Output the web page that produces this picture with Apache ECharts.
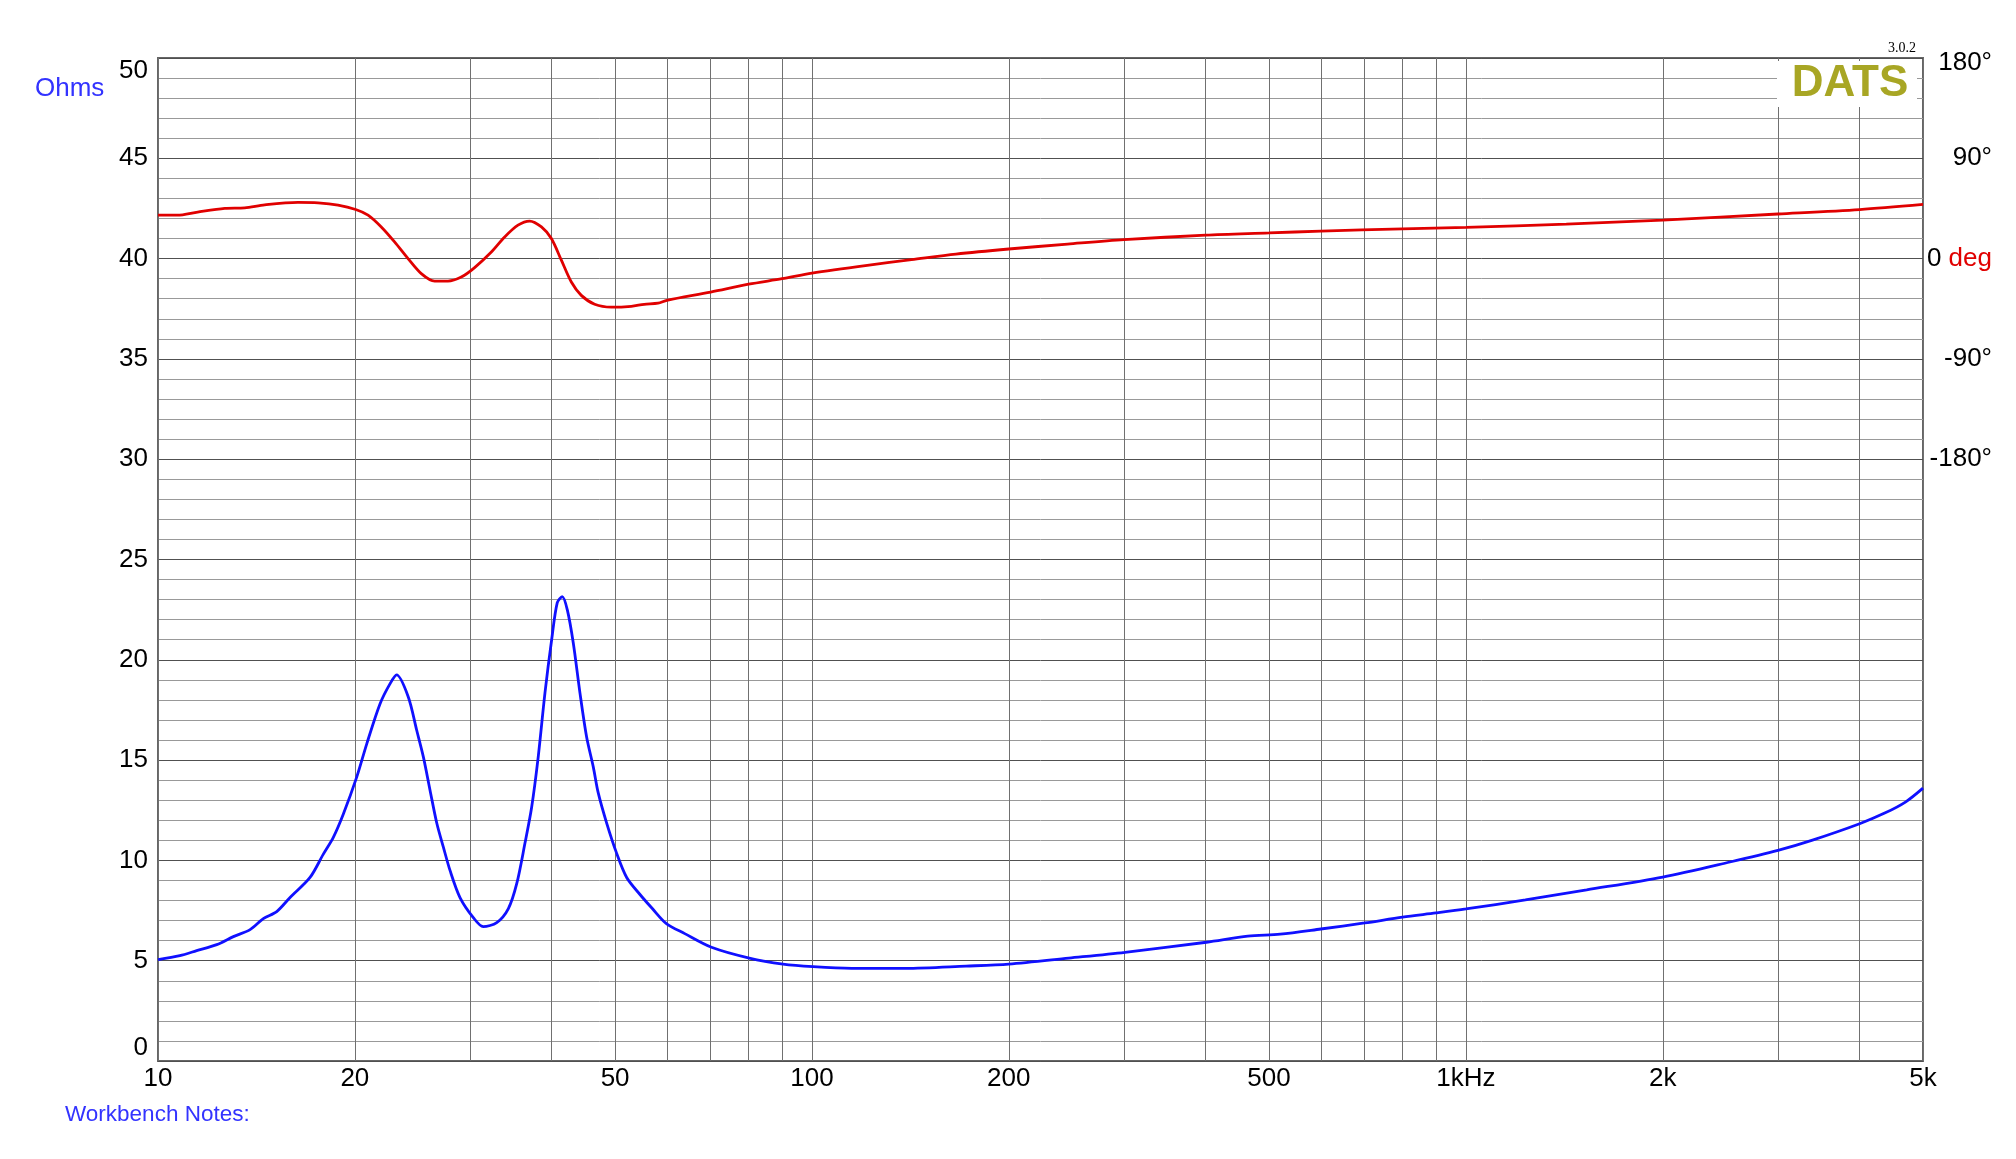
<!DOCTYPE html>
<html>
<head>
    <meta charset="utf-8">
    <title>DATS impedance</title>
    <script src="https://cdn.jsdelivr.net/npm/echarts@6/dist/echarts.min.js"></script>
    <style>
        html, body { margin: 0; padding: 0; background: #fff; }
    </style>
</head>
<body>
    <div id="main" style="width: 2016px;height:1159px;"></div>
    <script type="text/javascript">
        // impedance magnitude (ohms)
        var impFreq = [10, 10.8, 11.46, 12.3, 13.04, 13.83, 14.49, 15.19, 15.92, 17.08, 17.89, 18.54, 19.2,
            20.13, 20.85, 21.85, 22.63, 23.17, 24.14, 24.86, 25.46, 26.06, 26.69, 27.32, 27.96, 28.96,
            30.35, 31.43, 32.96, 34.34, 35.37, 36.4, 37.27, 38.14, 39.06, 39.99, 40.79, 41.51, 42.25,
            43.15, 44.18, 45.23, 46.31, 47.13, 48.55, 50.28, 52.08, 54.58, 57.0, 59.9, 63.9, 70.2,
            80.2, 90.3, 100.4, 115, 139, 172, 200, 247, 301, 401, 464, 520, 600, 700, 800, 900, 1000,
            1233, 1530, 2000, 2533, 3000, 3379, 4000, 4378, 4706, 5000];
        var impOhms = [5.05, 5.25, 5.5, 5.8, 6.2, 6.55, 7.1, 7.45, 8.15, 9.15, 10.3, 11.15, 12.3,
            14.15, 15.8, 17.8, 18.8, 19.25, 18.15, 16.5, 15.15, 13.5, 11.85, 10.65, 9.5, 8.15,
            7.15, 6.7, 6.9, 7.6, 8.85, 10.85, 12.65, 15.15, 18.35, 21.0, 22.85, 23.15, 22.5,
            20.85, 18.35, 16.15, 14.65, 13.35, 11.85, 10.35, 9.15, 8.3, 7.6, 6.85, 6.35, 5.67,
            5.13, 4.83, 4.7, 4.62, 4.62, 4.73, 4.83, 5.13, 5.42, 5.92, 6.22, 6.32, 6.58, 6.88, 7.17, 7.38, 7.58,
            8.03, 8.53, 9.17, 9.92, 10.5, 11.0, 11.83, 12.37, 12.92, 13.6];

        // phase (degrees)
        var phaseFreq = [10, 10.7, 11.5, 12.65, 13.57, 14.56, 16.37, 17.57, 18.85, 20.06, 20.95, 21.95,
            23.0, 24.12, 25.27, 26.49, 27.76, 29.09, 30.49, 32.34, 33.89, 35.52, 37.01, 38.58, 39.95,
            41.38, 42.86, 44.39, 46.53, 49.34, 52.94, 55.4, 58.16, 60, 70, 80, 90, 100, 121.5, 142, 166,
            200, 246, 300, 400, 500, 600, 800, 1000, 1424, 2000, 3000, 4000, 5000];
        var phaseDeg = [39, 39, 41.8, 45, 45.5, 48.2, 50.4, 50, 48, 44.1, 39, 28.4,
            15, 0, -13.5, -20.2, -20.2, -16.6, -8.1, 5.9, 19.4, 30, 33.7, 28.4, 18,
            -1.4, -21, -33, -41, -43.6, -42.8, -41, -40, -37.4, -30, -23, -18, -13, -6, -1, 4,
            8.6, 13, 17, 21, 23, 24.7, 26.6, 28, 31, 34.6, 40, 44, 48.6];

        // axis ticks
        var gridFreqs = [10, 20, 30, 40, 50, 60, 70, 80, 90, 100, 200, 300, 400, 500, 600, 700, 800, 900,
            1000, 2000, 3000, 4000, 5000];
        var labelFreqs = [10, 20, 50, 100, 200, 500, 1000, 2000, 5000];
        var freqNames = {1000: '1kHz', 2000: '2k', 5000: '5k'};

        var FONT = 'Liberation Sans';
        var myChart = echarts.init(document.getElementById('main'));

        myChart.setOption({
            animation: false,
            backgroundColor: '#fff',
            grid: {
                left: 158, right: 93, top: 58, bottom: 98,
                show: true,
                borderColor: '#666',
                borderWidth: 2
            },
            xAxis: {
                type: 'log',
                logBase: 10,
                min: 10,
                max: 5000,
                axisLine: {show: false},
                axisTick: {show: false, customValues: gridFreqs},
                axisLabel: {
                    customValues: labelFreqs,
                    fontFamily: FONT,
                    fontSize: 26,
                    color: '#000',
                    margin: 5,
                    formatter: function (v) {
                        var r = Math.round(v);
                        return freqNames[r] || String(r);
                    }
                },
                splitLine: {show: true, lineStyle: {color: '#707070', width: 1}}
            },
            yAxis: [{
                type: 'value',
                min: 0,
                max: 50,
                interval: 5,
                axisLine: {show: false},
                axisTick: {show: false},
                axisLabel: {
                    fontFamily: FONT,
                    fontSize: 26,
                    color: '#000',
                    margin: 10,
                    verticalAlignMaxLabel: 'top',
                    verticalAlignMinLabel: 'bottom'
                },
                splitLine: {show: true, lineStyle: {color: '#505050', width: 1}},
                minorTick: {show: false, splitNumber: 5},
                minorSplitLine: {show: true, lineStyle: {color: '#999', width: 1}}
            }, {
                type: 'value',
                position: 'right',
                min: -720,
                max: 180,
                interval: 90,
                axisLine: {show: false},
                axisTick: {show: false},
                splitLine: {show: false},
                axisLabel: {
                    fontFamily: FONT,
                    fontSize: 26,
                    color: '#000',
                    align: 'right',
                    margin: 69,
                    formatter: function (v) {
                        if (v < -180) return '';
                        if (v === 0) return '0 {d|deg}';
                        if (v === 180) return '{t|180°}';
                        return v + '°';
                    },
                    rich: {
                        d: {fontFamily: FONT, fontSize: 26, color: '#e00000'},
                        t: {fontFamily: FONT, fontSize: 26, color: '#000', padding: [10, 0, 0, 0]}
                    }
                }
            }],
            graphic: [{
                type: 'rect',
                z: 100,
                shape: {x: 1777, y: 61, width: 140, height: 46},
                style: {fill: '#fff'}
            }, {
                type: 'text',
                z: 101,
                x: 1850, y: 84,
                style: {
                    text: 'DATS',
                    fontFamily: FONT,
                    fontWeight: 'bold',
                    fontSize: 44,
                    fill: '#a8a624',
                    align: 'center',
                    verticalAlign: 'middle'
                }
            }, {
                type: 'text',
                z: 101,
                x: 1916, y: 48,
                style: {
                    text: '3.0.2',
                    fontFamily: 'Liberation Serif',
                    fontSize: 14,
                    fill: '#000',
                    align: 'right',
                    verticalAlign: 'middle'
                }
            }, {
                type: 'text',
                z: 101,
                x: 35, y: 89,
                style: {
                    text: 'Ohms',
                    fontFamily: FONT,
                    fontSize: 26,
                    fill: '#3333ff',
                    verticalAlign: 'middle'
                }
            }, {
                type: 'text',
                z: 101,
                x: 65, y: 1115,
                style: {
                    text: 'Workbench Notes:',
                    fontFamily: FONT,
                    fontSize: 22.5,
                    fill: '#3333ff',
                    verticalAlign: 'middle'
                }
            }],
            series: [{
                name: 'Impedance',
                type: 'line',
                showSymbol: false,
                smooth: 0.3,
                lineStyle: {color: '#1010ff', width: 2.8},
                data: impFreq.map(function (f, i) { return [f, impOhms[i]]; })
            }, {
                name: 'Phase',
                type: 'line',
                yAxisIndex: 1,
                showSymbol: false,
                smooth: 0.3,
                lineStyle: {color: '#e00000', width: 2.8},
                data: phaseFreq.map(function (f, i) { return [f, phaseDeg[i]]; })
            }]
        });
    </script>
</body>
</html>
